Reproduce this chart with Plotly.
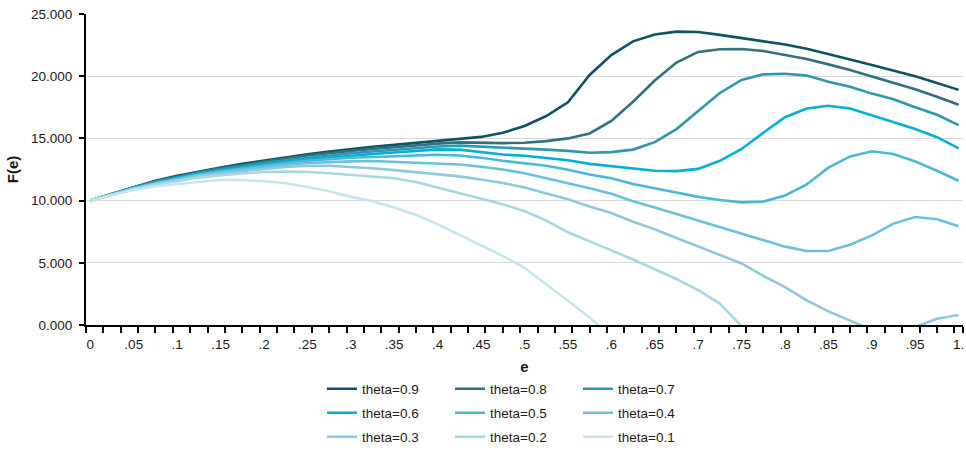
import plotly.graph_objects as go

# e values (category axis, one point every 0.025)
E = [0.0, 0.025, 0.05, 0.075, 0.1, 0.125, 0.15, 0.175, 0.2, 0.225,
     0.25, 0.275, 0.3, 0.325, 0.35, 0.375, 0.4, 0.425, 0.45, 0.475,
     0.5, 0.525, 0.55, 0.575, 0.6, 0.625, 0.65, 0.675, 0.7, 0.725,
     0.75, 0.775, 0.8, 0.825, 0.85, 0.875, 0.9, 0.925, 0.95, 0.975, 1.0]

F_09 = [10.0, 10.55, 11.1, 11.6, 12.0, 12.35, 12.65, 12.95, 13.22, 13.48,
        13.72, 13.95, 14.15, 14.33, 14.48, 14.63, 14.78, 14.95, 15.12, 15.45,
        16.0, 16.8, 17.9, 20.1, 21.7, 22.8, 23.35, 23.58, 23.55, 23.32,
        23.08, 22.82, 22.55, 22.2, 21.8, 21.35, 20.9, 20.45, 20.0, 19.45, 18.9]
F_08 = [10.0, 10.54, 11.07, 11.55, 11.95, 12.3, 12.6, 12.88, 13.14, 13.38,
        13.62, 13.83, 14.0, 14.15, 14.3, 14.45, 14.58, 14.68, 14.65, 14.62,
        14.65, 14.78, 15.0, 15.4, 16.4, 17.95, 19.65, 21.1, 21.95, 22.17,
        22.18, 22.02, 21.7, 21.38, 20.95, 20.5, 19.97, 19.45, 18.95, 18.35, 17.7]
F_07 = [10.0, 10.53, 11.05, 11.5, 11.88, 12.22, 12.5, 12.78, 13.02, 13.25,
        13.45, 13.65, 13.8, 13.95, 14.1, 14.25, 14.35, 14.42, 14.35, 14.25,
        14.18, 14.1, 14.0, 13.85, 13.9, 14.1, 14.7, 15.75, 17.2, 18.65,
        19.7, 20.15, 20.2, 20.05, 19.55, 19.15, 18.6, 18.15, 17.5, 16.9, 16.07]
F_06 = [10.0, 10.52, 11.02, 11.45, 11.82, 12.15, 12.42, 12.68, 12.9, 13.12,
        13.3, 13.45, 13.6, 13.75, 13.88, 14.0, 14.12, 14.1, 13.9, 13.7,
        13.6, 13.45, 13.25, 12.95, 12.75, 12.55, 12.4, 12.37, 12.55, 13.2,
        14.15, 15.45, 16.7, 17.4, 17.62, 17.4, 16.85, 16.3, 15.75, 15.1, 14.2]
F_05 = [10.0, 10.5, 11.0, 11.42, 11.78, 12.1, 12.36, 12.6, 12.82, 13.02,
        13.2, 13.35, 13.45, 13.5, 13.55, 13.6, 13.68, 13.62, 13.45, 13.2,
        13.0, 12.8, 12.48, 12.1, 11.8, 11.33, 11.0, 10.67, 10.3, 10.05,
        9.86, 9.92, 10.4, 11.3, 12.65, 13.55, 13.97, 13.75, 13.15, 12.4, 11.6]
F_04 = [10.0, 10.5, 10.98, 11.38, 11.72, 12.02, 12.28, 12.5, 12.7, 12.88,
        13.02, 13.1, 13.15, 13.18, 13.12, 13.05, 12.98, 12.9, 12.72, 12.5,
        12.2, 11.8, 11.42, 11.0, 10.55, 9.95, 9.45, 8.92, 8.37, 7.87,
        7.37, 6.8, 6.3, 5.95, 5.95, 6.45, 7.2, 8.15, 8.68, 8.5, 7.93]
F_03 = [10.0, 10.48, 10.95, 11.33, 11.65, 11.95, 12.18, 12.38, 12.55, 12.7,
        12.8, 12.8, 12.72, 12.6, 12.45, 12.28, 12.1, 11.95, 11.7, 11.42,
        11.05, 10.55, 10.1, 9.52, 9.0, 8.3, 7.7, 7.0, 6.3, 5.65,
        4.95, 3.95, 3.05, 1.98, 1.1, 0.35, -0.4, -0.6, -0.15, 0.5, 0.8]
F_02 = [10.0, 10.47, 10.92, 11.28, 11.58, 11.85, 12.05, 12.2, 12.3, 12.33,
        12.3, 12.2, 12.07, 11.97, 11.8, 11.5, 11.05, 10.55, 10.15, 9.7,
        9.15, 8.4, 7.45, 6.75, 6.0, 5.27, 4.5, 3.7, 2.8, 1.72, -0.1]
F_01 = [10.0, 10.45, 10.85, 11.15, 11.35, 11.5, 11.65, 11.65, 11.55, 11.4,
        11.1, 10.75, 10.3, 9.95, 9.45, 8.85, 8.1, 7.25, 6.4, 5.55,
        4.6, 3.3, 1.95, 0.6, -0.9]

SERIES_NAMES = ["theta=0.9", "theta=0.8", "theta=0.7",
                "theta=0.6", "theta=0.5", "theta=0.4",
                "theta=0.3", "theta=0.2", "theta=0.1"]
SERIES_VALUES = [F_09, F_08, F_07, F_06, F_05, F_04, F_03, F_02, F_01]
SERIES_COLORS = ["#0E5365", "#31717F", "#2E97B0",
                 "#00B0D6", "#4AB8D6", "#6BC1DB",
                 "#8BC9DC", "#A7D7E3", "#C7E5EE"]

# x axis labels
XTICK_VALS = [0.0, 0.05, 0.1, 0.15, 0.2, 0.25, 0.3, 0.35, 0.4, 0.45, 0.5,
              0.55, 0.6, 0.65, 0.7, 0.75, 0.8, 0.85, 0.9, 0.95, 1.0]
XTICK_TEXT = ["0", ".05", ".1", ".15", ".2", ".25", ".3", ".35", ".4", ".45", ".5",
              ".55", ".6", ".65", ".7", ".75", ".8", ".85", ".9", ".95", "1."]

FONT = "'Liberation Sans', Arial, sans-serif"
TXT = "#1a1a1a"
FS = 13.5

fig = go.Figure()
legend_ids = ["legend", "legend2", "legend3"]
for i, (name, vals, color) in enumerate(zip(SERIES_NAMES, SERIES_VALUES, SERIES_COLORS)):
    fig.add_trace(go.Scatter(
        x=E[:len(vals)], y=vals, mode="lines", name=name,
        line=dict(color=color, width=2.6),
        legend=legend_ids[i // 3],
    ))

# category boundaries: ticks every second category (categories every 0.01)
minor_ticks = [round(-0.005 + 0.02 * k, 3) for k in range(51)] + [1.005]

W, H = 966, 452
ML, MR, MT, MB = 86, 3, 14, 127
plot_h = H - MT - MB
plot_w = W - ML - MR


def legend_row(ypx):
    return dict(
        orientation="h", x=(322 - ML) / plot_w, xanchor="left",
        y=-(ypx - (H - MB)) / plot_h, yanchor="middle",
        entrywidth=83, entrywidthmode="pixels", itemwidth=30,
        font=dict(family=FONT, size=FS, color=TXT),
        bgcolor="rgba(0,0,0,0)", borderwidth=0, traceorder="normal",
    )


fig.update_layout(
    width=W, height=H,
    margin=dict(l=ML, r=MR, t=MT, b=MB, pad=0, autoexpand=False),
    paper_bgcolor="white", plot_bgcolor="white",
    font=dict(family=FONT, size=FS, color=TXT),
    showlegend=True,
    legend=legend_row(389),
    legend2=legend_row(413),
    legend3=legend_row(437),
    xaxis=dict(
        range=[-0.005, 1.005],
        tickmode="array", tickvals=XTICK_VALS, ticktext=XTICK_TEXT,
        ticks="outside", ticklen=6, tickcolor="rgba(0,0,0,0)",
        minor=dict(tickmode="array", tickvals=minor_ticks, ticks="outside",
                   ticklen=6, tickwidth=2, tickcolor="black", showgrid=False),
        showline=True, linecolor="black", linewidth=2,
        showgrid=False, zeroline=False,
        tickfont=dict(family=FONT, size=FS, color=TXT),
        title=dict(text="<b>e</b>", font=dict(family=FONT, size=15, color=TXT), standoff=10),
    ),
    yaxis=dict(
        range=[0, 25], dtick=5, tick0=0, tickformat=".3f",
        ticks="outside", ticklen=5, tickwidth=2, tickcolor="black",
        ticklabelstandoff=4,
        showline=True, linecolor="black", linewidth=2,
        showgrid=True, gridcolor="#d9d9d9", gridwidth=1, zeroline=False,
        tickfont=dict(family=FONT, size=FS, color=TXT),
        title=dict(text="<b>F(e)</b>", font=dict(family=FONT, size=15, color=TXT), standoff=9),
    ),
)

fig.write_html("out.html")
